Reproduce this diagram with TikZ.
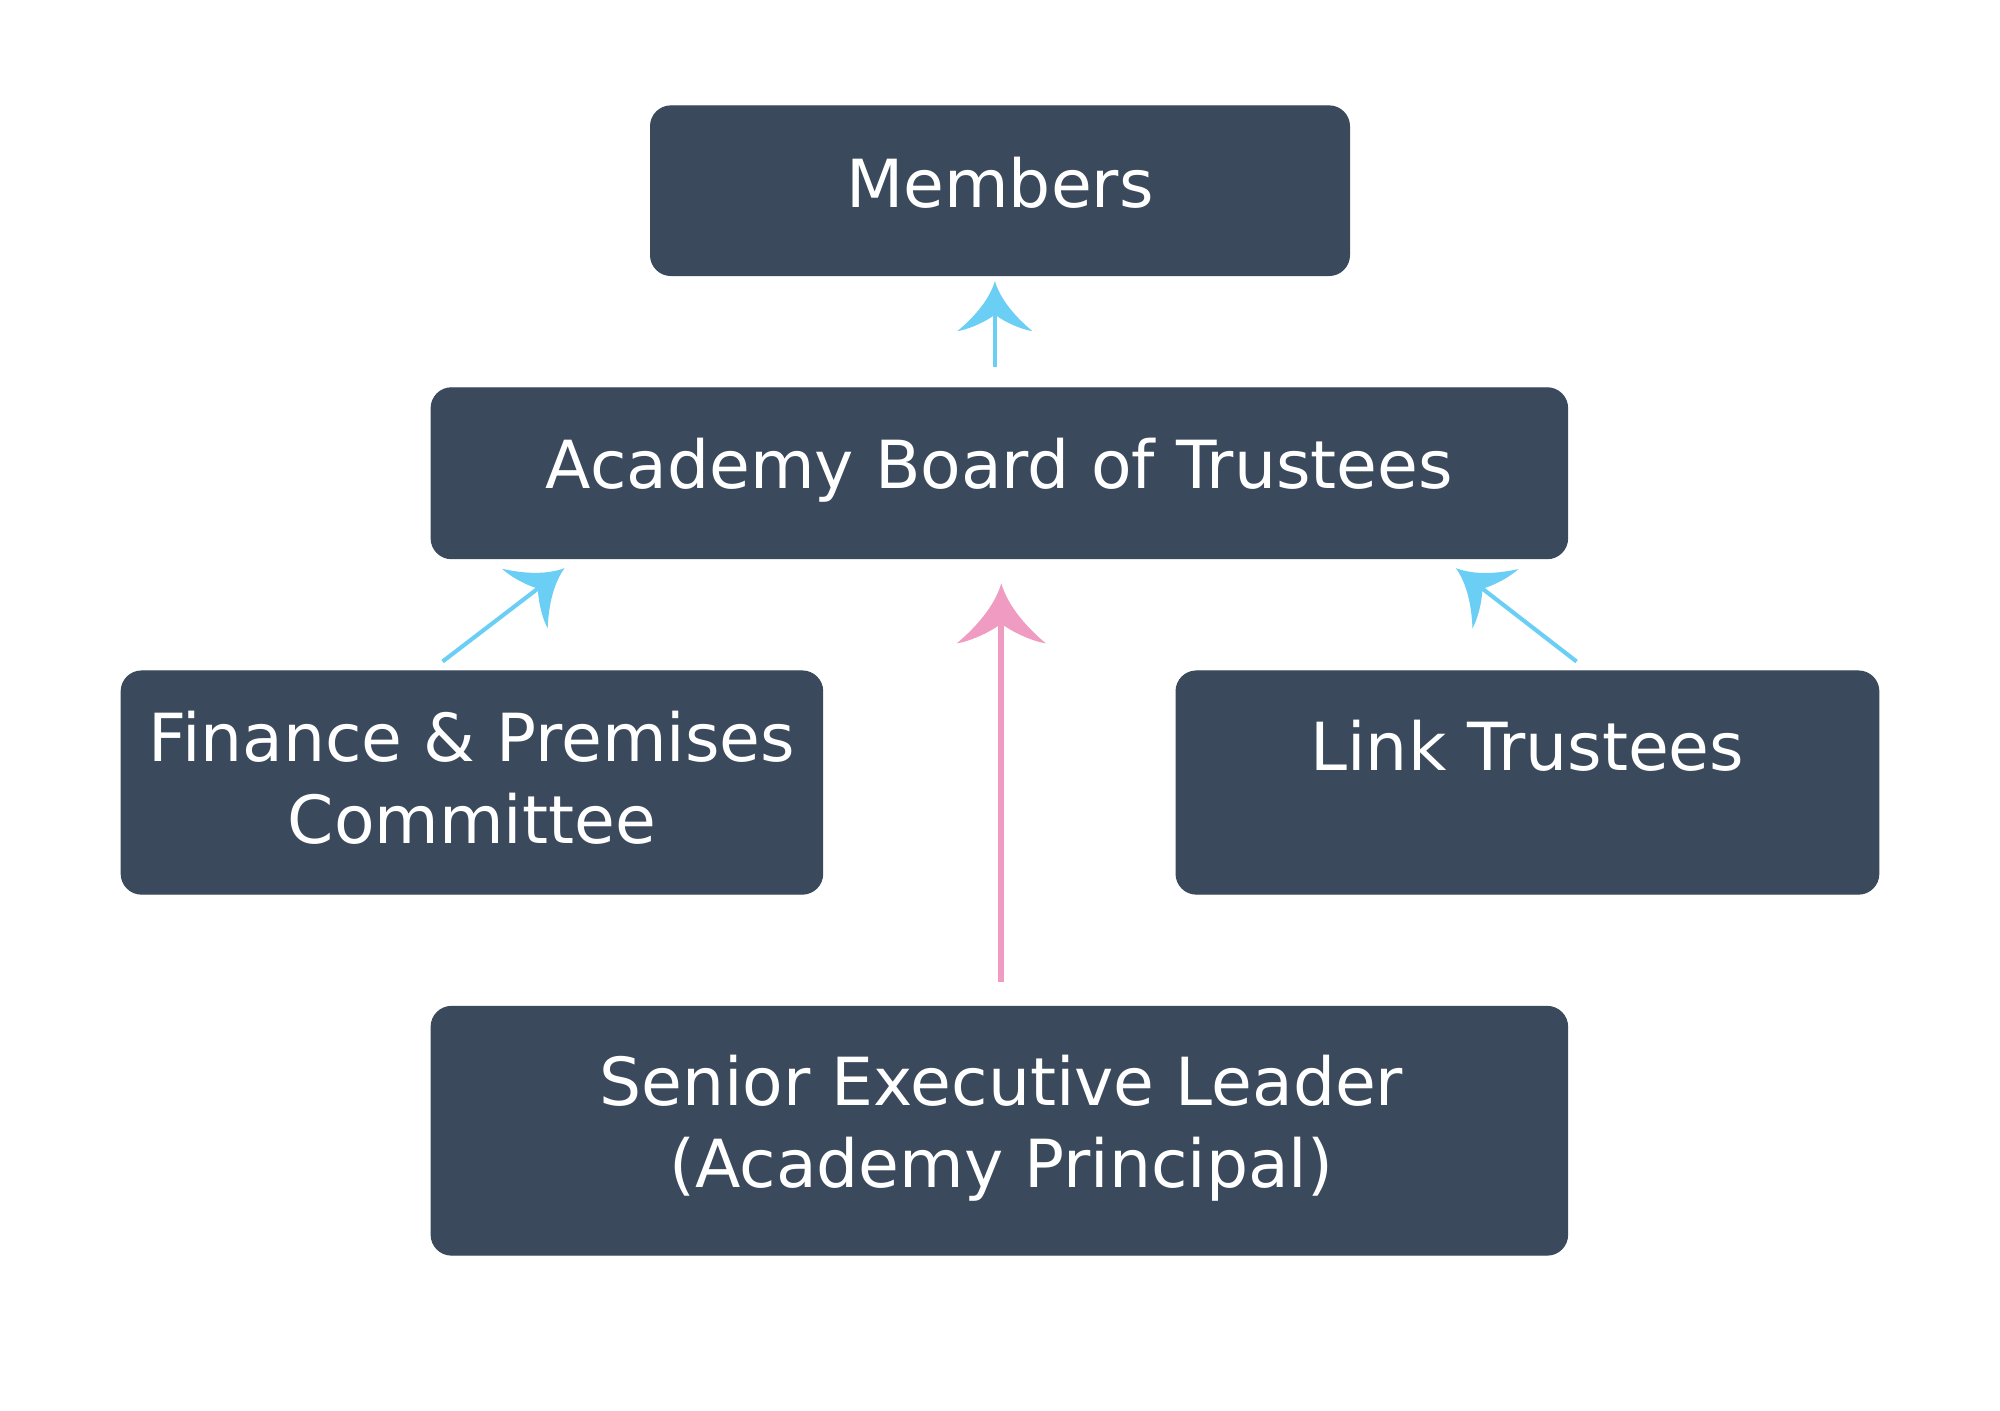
\documentclass[tikz,border=0pt]{standalone}
\usepackage{fontspec}
\setmainfont{DejaVu Sans}
\usetikzlibrary{arrows.meta,calc}
\definecolor{boxc}{HTML}{3A4A5C}
\definecolor{bluec}{HTML}{6ACEF5}
\definecolor{pinkc}{HTML}{F09BC2}
\pgfdeclarearrow{
  name = Swept,
  parameters = {\the\pgfarrowlength,\the\pgfarrowwidth},
  setup code = {
    \pgfarrowssettipend{0pt}
    \pgfarrowssetbackend{-\pgfarrowlength}
    \pgfarrowssetlineend{-0.6\pgfarrowlength}
    \pgfarrowssavethe\pgfarrowlength
    \pgfarrowssavethe\pgfarrowwidth
  },
  drawing code = {
    \pgfpathmoveto{\pgfqpoint{0pt}{0pt}}
    \pgfpathcurveto{\pgfqpoint{-0.4\pgfarrowlength}{0.08\pgfarrowwidth}}{\pgfqpoint{-0.75\pgfarrowlength}{0.3\pgfarrowwidth}}{\pgfqpoint{-\pgfarrowlength}{0.5\pgfarrowwidth}}
    \pgfpathcurveto{\pgfqpoint{-0.95\pgfarrowlength}{0.3\pgfarrowwidth}}{\pgfqpoint{-0.75\pgfarrowlength}{0.06\pgfarrowwidth}}{\pgfqpoint{-0.667\pgfarrowlength}{0pt}}
    \pgfpathcurveto{\pgfqpoint{-0.75\pgfarrowlength}{-0.06\pgfarrowwidth}}{\pgfqpoint{-0.95\pgfarrowlength}{-0.3\pgfarrowwidth}}{\pgfqpoint{-\pgfarrowlength}{-0.5\pgfarrowwidth}}
    \pgfpathcurveto{\pgfqpoint{-0.75\pgfarrowlength}{-0.3\pgfarrowwidth}}{\pgfqpoint{-0.4\pgfarrowlength}{-0.08\pgfarrowwidth}}{\pgfqpoint{0pt}{0pt}}
    \pgfpathclose
    \pgfusepathqfill
  },
  defaults = {length=19.6pt, width=29.4pt}
}
\tikzset{
  box/.style={draw=boxc, line width=0.4pt, fill=boxc, rounded corners=8pt, inner sep=0pt},
  txt/.style={text=white, font=\fontsize{26}{32}\selectfont, align=center, inner sep=0pt},
  bluearrow/.style={draw=bluec, line width=1.6pt, -{Swept[length=19.6pt,width=29.4pt]}},
  pinkarrow/.style={draw=pinkc, line width=2.35pt, -{Swept[length=23.5pt,width=34.9pt]}}
}
\begin{document}
\begin{tikzpicture}[x=0.5pt,y=-0.5pt]
\useasboundingbox[fill=white] (0,0) rectangle (1568,1105.44);
% boxes
\node[box, minimum width=274pt, minimum height=66.5pt] (members) at (784,149.5) {};
\node[box, minimum width=445.5pt, minimum height=67pt] (board) at (783.5,371) {};
\node[box, minimum width=275pt, minimum height=87.5pt] (finance) at (370,613.5) {};
\node[box, minimum width=275.5pt, minimum height=87.5pt] (link) at (1197.5,613.5) {};
\node[box, minimum width=445.5pt, minimum height=97.5pt] (senior) at (783.5,886.5) {};
% texts
\node[txt, anchor=base] (memberst) at (784,162.5) {Members};
\node[txt, anchor=base] (boardt) at (783.5,383) {Academy Board of Trustees};
\node[txt] (financet) at (370,610) {Finance \& Premises\\Committee};
\node[txt, anchor=base] (linkt) at (1197.5,604) {Link Trustees};
\node[txt] (seniort) at (785,884.4) {Senior Executive Leader\\(Academy Principal)};
% connectors
\draw[bluearrow] ($(board.north)+(-3.5,-16)$) -- ($(members.south)+(-4,4)$);
\draw[bluearrow] ($(finance.north)+(-23,-7)$) -- ($(board.south west)+(105,7)$);
\draw[bluearrow] ($(link.north)+(38.5,-7)$) -- ($(board.south east)+(-88,7)$);
\draw[pinkarrow] ($(senior.north)+(1.5,-19)$) -- ($(board.south)+(1.5,19)$);
\end{tikzpicture}
\end{document}
